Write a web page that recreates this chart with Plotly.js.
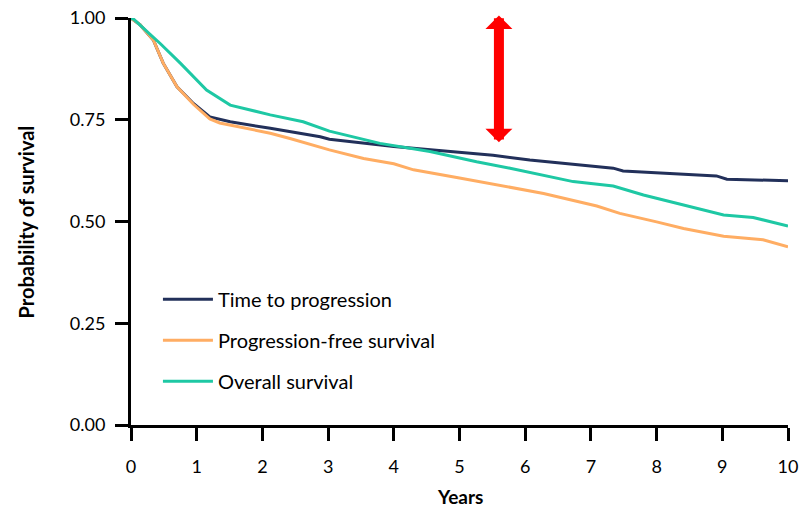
<!DOCTYPE html>
<html>
<head>
<meta charset="utf-8">
<script src="https://cdn.plot.ly/plotly-3.0.1.min.js"></script>
<style>html,body{margin:0;padding:0;background:#fff;}#chart{width:799px;height:509px;}</style>
</head>
<body>
<div id="chart"></div>
<script>
// Time to progression
const ttpYears = [0, 0.14, 0.34, 0.49, 0.70, 0.95, 1.20, 1.51, 2.12, 2.88, 3.02, 3.50, 4.00, 4.30, 5.00, 5.51, 6.07, 6.60, 7.00, 7.34, 7.49, 8.00, 8.50, 8.91, 9.07, 9.50, 10.0];
const ttpSurv  = [1.0, 0.983, 0.946, 0.889, 0.831, 0.790, 0.757, 0.745, 0.729, 0.708, 0.702, 0.693, 0.684, 0.680, 0.670, 0.663, 0.651, 0.642, 0.637, 0.631, 0.624, 0.620, 0.615, 0.612, 0.604, 0.603, 0.600];
// Progression-free survival
const pfsYears = [0, 0.14, 0.34, 0.49, 0.70, 0.95, 1.20, 1.35, 2.12, 2.42, 3.02, 3.54, 4.00, 4.30, 5.00, 5.57, 6.28, 7.09, 7.44, 8.00, 8.41, 9.02, 9.62, 10.0];
const pfsSurv  = [1.0, 0.983, 0.946, 0.889, 0.831, 0.788, 0.752, 0.742, 0.717, 0.704, 0.676, 0.655, 0.642, 0.627, 0.607, 0.590, 0.569, 0.538, 0.520, 0.499, 0.483, 0.464, 0.455, 0.438];
// Overall survival
const osYears = [0, 0.05, 0.29, 0.44, 0.75, 1.15, 1.51, 2.12, 2.62, 3.02, 3.79, 4.55, 5.26, 5.77, 6.73, 7.34, 7.80, 8.41, 9.02, 9.47, 10.0];
const osSurv  = [1.0, 0.996, 0.960, 0.938, 0.889, 0.823, 0.786, 0.762, 0.745, 0.722, 0.692, 0.672, 0.647, 0.631, 0.598, 0.587, 0.565, 0.541, 0.516, 0.510, 0.489];

const seriesNames = ['Time to progression', 'Progression-free survival', 'Overall survival'];
const seriesColors = ['#22305a', '#ffad63', '#1ec8a4'];

const xTicks = [0,1,2,3,4,5,6,7,8,9,10];
const xTickText = ['0','1','2','3','4','5','6','7','8','9','10'];
const yTicks = [0, 0.25, 0.5, 0.75, 1];
const yTickText = ['0.00','0.25','0.50','0.75','1.00'];

// Red double arrow annotation (years, probability)
const arrowX = 5.60;
const arrowTop = 1.01;
const arrowBottom = 0.695;

const FONT = "Lato, 'Open Sans', sans-serif";

const xs = [ttpYears, pfsYears, osYears];
const ys = [ttpSurv, pfsSurv, osSurv];
const traces = seriesNames.map((n, i) => ({
  x: xs[i], y: ys[i], name: n, type: 'scatter', mode: 'lines',
  legendgroup: 'g' + i,
  line: {color: seriesColors[i], width: 3}
}));

const layout = {
  width: 799, height: 509,
  margin: {l: 131, r: 11, t: 18, b: 84},
  paper_bgcolor: '#fff', plot_bgcolor: '#fff',
  font: {family: FONT, color: '#000', size: 18},
  showlegend: true,
  legend: {x: 0.041, y: 0.357, xanchor: 'left', yanchor: 'top',
           font: {family: FONT, size: 20, color: '#000'},
           itemwidth: 50, tracegroupgap: 12, bgcolor: 'rgba(0,0,0,0)'},
  xaxis: {range: [0, 10], tickvals: xTicks, ticktext: xTickText,
          showgrid: false, zeroline: false, showline: true, linecolor: '#000', linewidth: 3,
          ticks: 'outside', ticklen: 13, tickwidth: 3, tickcolor: '#000',
          ticklabelstandoff: 10, tickfont: {family: FONT, size: 18}, automargin: false},
  yaxis: {range: [0, 1], tickvals: yTicks, ticktext: yTickText,
          showgrid: false, zeroline: false, showline: true, linecolor: '#000', linewidth: 3,
          ticks: 'outside', ticklen: 13, tickwidth: 3, tickcolor: '#000',
          ticklabelstandoff: 6, tickfont: {family: FONT, size: 18}, automargin: false},
  annotations: [
    {x: arrowX, y: arrowBottom, ax: arrowX, ay: arrowTop, xref: 'x', yref: 'y', axref: 'x', ayref: 'y',
     text: '', showarrow: true, arrowside: 'end+start', arrowhead: 1, startarrowhead: 1,
     arrowsize: 0.45, startarrowsize: 0.45, arrowwidth: 10, arrowcolor: '#ff0000'},
    {text: '<b>Years</b>', xref: 'paper', yref: 'paper', x: 0.5, y: -0.2064, xanchor: 'center', yanchor: 'bottom',
     borderpad: 0, showarrow: false, font: {family: FONT, size: 19, color: '#000'}},
    {text: '<b>Probability of survival</b>', xref: 'paper', yref: 'paper', x: -0.160, y: 0.5, xanchor: 'center', yanchor: 'middle',
     textangle: -90, showarrow: false, font: {family: FONT, size: 20, color: '#000'}}
  ]
};

Plotly.newPlot('chart', traces, layout, {displayModeBar: false, staticPlot: true});
</script>
</body>
</html>
